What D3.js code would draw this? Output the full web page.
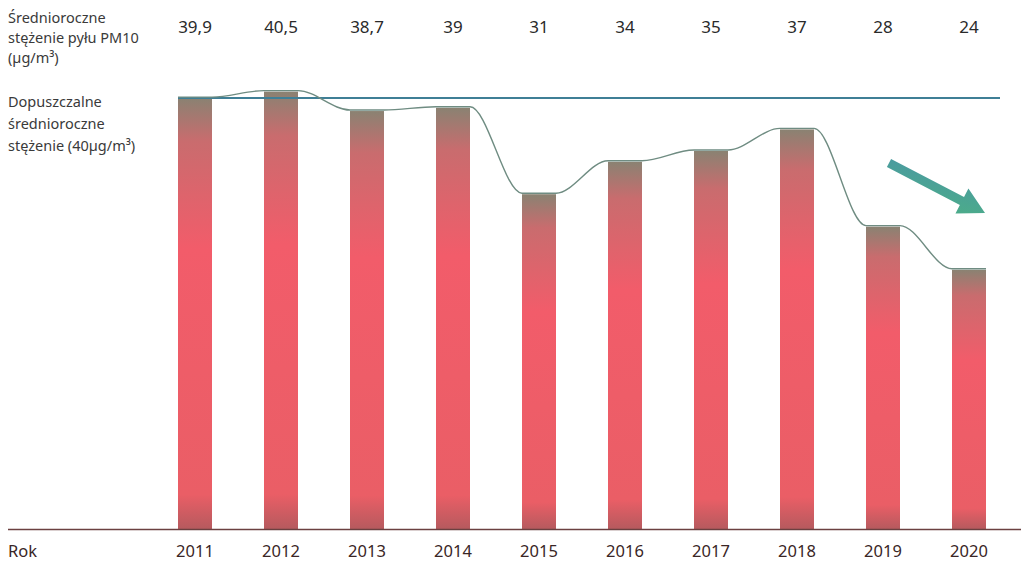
<!DOCTYPE html>
<html><head><meta charset="utf-8">
<script src="https://cdn.jsdelivr.net/npm/d3@7"></script>
<style>body{margin:0;background:#fff}svg{display:block}text{font-family:"Noto Sans",sans-serif}</style>
</head><body>
<svg id="c" width="1021" height="564"></svg>
<script>
const years = ["2011","2012","2013","2014","2015","2016","2017","2018","2019","2020"];
const values = [39.9, 40.5, 38.7, 39, 31, 34, 35, 37, 28, 24];
const valueLabels = ["39,9","40,5","38,7","39","31","34","35","37","28","24"];
const limitValue = 40;
const leftLabel1 = ["Średnioroczne","stężenie pyłu PM10","(µg/m³)"];
const leftLabel2 = ["Dopuszczalne","średnioroczne","stężenie (40µg/m³)"];
const axisTitle = "Rok";

const svg = d3.select("#c");
const W = 1021;
const x = d3.scalePoint().domain(years).range([195, 969]);
const y = d3.scaleLinear().domain([0, 40]).range([529, 97]);
const bw = 34;

const defs = svg.append("defs");
const g = defs.append("linearGradient").attr("id","bar").attr("x1",0).attr("y1",0).attr("x2",0).attr("y2",1);
g.append("stop").attr("offset","0%").attr("stop-color","#8a8272");
g.append("stop").attr("offset","10%").attr("stop-color","#c96c6e");
g.append("stop").attr("offset","35%").attr("stop-color","#f25c6a");
g.append("stop").attr("offset","92%").attr("stop-color","#ea5e66");
g.append("stop").attr("offset","100%").attr("stop-color","#b65a5e");
const ag = defs.append("linearGradient").attr("id","arr").attr("x1",0).attr("y1",0).attr("x2",1).attr("y2",1);
ag.append("stop").attr("offset","0%").attr("stop-color","#4a98a4");
ag.append("stop").attr("offset","100%").attr("stop-color","#4cae86");

// bars
svg.selectAll("rect.bar").data(years).join("rect")
  .attr("x", d => x(d) - bw/2)
  .attr("y", (d,i) => y(values[i]))
  .attr("width", bw)
  .attr("height", (d,i) => y(0) - y(values[i]))
  .attr("fill","url(#bar)");

// limit line
svg.append("line").attr("x1",178).attr("x2",1000).attr("y1",y(limitValue)+1).attr("y2",y(limitValue)+1)
  .attr("stroke","#3f7f96").attr("stroke-width",2);

// smooth curve over tops
const pts = [];
years.forEach((d,i) => { pts.push([x(d)-bw/2, y(values[i])-1]); pts.push([x(d)+bw/2, y(values[i])-1]); });
svg.append("path").attr("d", d3.line().curve(d3.curveMonotoneX)(pts))
  .attr("fill","none").attr("stroke","#6f8c82").attr("stroke-width",1.4);

// baseline
svg.append("line").attr("x1",8).attr("x2",W).attr("y1",y(0)+0.5).attr("y2",y(0)+0.5)
  .attr("stroke","#6b4040").attr("stroke-width",1.5);

// value labels
svg.selectAll("text.val").data(years).join("text")
  .attr("x", d => x(d)).attr("y", 33).attr("text-anchor","middle")
  .attr("font-size",17).attr("fill","#2a2a2a").text((d,i) => valueLabels[i]);

// x axis labels
svg.selectAll("text.yr").data(years).join("text")
  .attr("x", d => x(d)).attr("y", 557).attr("text-anchor","middle")
  .attr("font-size",16.5).attr("fill","#3a2626").text(d => d);
svg.append("text").attr("x",8).attr("y",557).attr("font-size",16.5).attr("fill","#3a2626").text(axisTitle);

// left labels
leftLabel1.forEach((t,i) => svg.append("text").attr("x",8).attr("y",23+i*20).attr("font-size",14.5).attr("fill","#3a3a3a").text(t));
leftLabel2.forEach((t,i) => svg.append("text").attr("x",8).attr("y",107+i*22).attr("font-size",14.5).attr("fill","#3a3a3a").text(t));

// arrow
const ax0 = 889, ay0 = 163, ax1 = 985, ay1 = 213;
const ang = Math.atan2(ay1-ay0, ax1-ax0);
const len = Math.hypot(ax1-ax0, ay1-ay0);
const ga = svg.append("g").attr("transform",`translate(${ax0},${ay0}) rotate(${ang*180/Math.PI})`);
ga.append("path").attr("d",`M0,-4.5 L${len-26},-4.5 L${len-26},-14 L${len},0 L${len-26},14 L${len-26},4.5 L0,4.5 Z`)
  .attr("fill","url(#arr)");
</script>
</body></html>
